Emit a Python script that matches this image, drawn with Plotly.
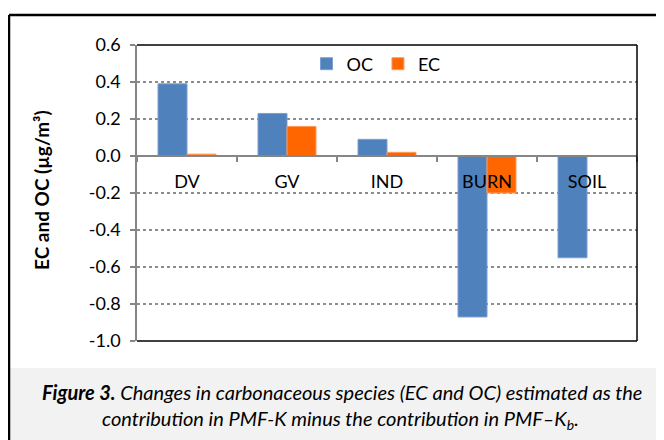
import plotly.graph_objects as go

categories = ["DV", "GV", "IND", "BURN", "SOIL"]
oc_values = [0.39, 0.23, 0.09, -0.87, -0.55]
ec_values = [0.01, 0.16, 0.02, -0.20, 0.0]
y_tick_vals = [0.6, 0.4, 0.2, 0.0, -0.2, -0.4, -0.6, -0.8, -1.0]
y_tick_text = ["0.6", "0.4", "0.2", "0.0", "-0.2", "-0.4", "-0.6", "-0.8", "-1.0"]

W, H = 664, 440
OFF = 8  # page body margin offset
L, R, T, B = 137, 637, 45, 341  # plot area in page pixels
FONT = "Lato, Open Sans, sans-serif"


def px(x):
    return (x - L) / (R - L)


def py(y):
    return (B - y) / (B - T)


fig = go.Figure()
fig.add_trace(go.Bar(name="OC", x=categories, y=oc_values,
                     marker=dict(color="#4F81BD", line=dict(color="#7A9FD0", width=1))))
fig.add_trace(go.Bar(name="EC", x=categories, y=ec_values,
                     marker=dict(color="#FF6600", line=dict(color="#FF9A5C", width=1))))

shapes = [
    # caption background
    dict(type="rect", xref="paper", yref="paper", x0=px(10), x1=px(680), y0=py(368), y1=py(460),
         fillcolor="#F2F2F2", line=dict(width=0), layer="below"),
    # outer frame
    dict(type="line", xref="paper", yref="paper", x0=px(9), x1=px(680), y0=py(15), y1=py(15),
         line=dict(color="black", width=2.5)),
    dict(type="line", xref="paper", yref="paper", x0=px(9), x1=px(9), y0=py(15), y1=py(460),
         line=dict(color="black", width=2.5)),
    # plot area border (top, right, bottom)
    dict(type="line", xref="paper", yref="paper", x0=0, x1=1, y0=1, y1=1,
         line=dict(color="black", width=1.5)),
    dict(type="line", xref="paper", yref="paper", x0=1, x1=1, y0=0, y1=1,
         line=dict(color="black", width=1.5)),
    dict(type="line", xref="paper", yref="paper", x0=0, x1=1, y0=0, y1=0,
         line=dict(color="black", width=1.5)),
]

annotations = [
    dict(xref="paper", yref="paper", x=px(41), y=py(190), xanchor="center", yanchor="middle",
         textangle=-90, showarrow=False,
         text="<b>EC and OC (µg/m³)</b>", font=dict(family=FONT, size=19, color="black")),
    dict(xref="paper", yref="paper", x=px(342), y=py(392), xanchor="center", yanchor="middle",
         showarrow=False,
         text="<b><i>Figure 3.</i></b><i> Changes in carbonaceous species (EC and OC) estimated as the</i>",
         font=dict(family=FONT, size=20, color="black")),
    dict(xref="paper", yref="paper", x=px(340), y=py(419), xanchor="center", yanchor="middle",
         showarrow=False,
         text="<i>contribution in PMF-K minus the contribution in PMF–K<sub>b</sub>.</i>",
         font=dict(family=FONT, size=20, color="black")),
]

fig.update_layout(
    width=W, height=H, autosize=False,
    margin=dict(l=L - OFF, r=W - (R - OFF), t=T - OFF, b=H - (B - OFF), pad=0),
    paper_bgcolor="white", plot_bgcolor="white",
    barmode="group", bargap=0.42, bargroupgap=0,
    font=dict(family=FONT, size=18, color="black"),
    showlegend=True,
    legend=dict(orientation="h", x=px(376), y=py(64), xanchor="center", yanchor="middle",
                font=dict(family=FONT, size=18), bgcolor="rgba(0,0,0,0)", itemwidth=30),
    shapes=shapes,
    annotations=annotations,
)

fig.update_yaxes(range=[-1.0, 0.6], tickvals=y_tick_vals, ticktext=y_tick_text,
                 ticks="outside", ticklen=5, tickcolor="#868686", tickwidth=1.5,
                 showline=True, linecolor="#868686", linewidth=1.5,
                 showgrid=True, gridcolor="#8C8C8C", griddash="dot", gridwidth=1.5,
                 zeroline=False, tickfont=dict(family=FONT, size=18), ticklabelstandoff=6)
fig.update_xaxes(anchor="free", position=py(156), showline=True, linecolor="#868686", linewidth=1.5,
                 ticks="outside", tickson="boundaries", ticklen=5, tickcolor="#868686", tickwidth=1.5,
                 tickfont=dict(family=FONT, size=18), ticklabelstandoff=10, showgrid=False)

fig.write_html("out.html")
